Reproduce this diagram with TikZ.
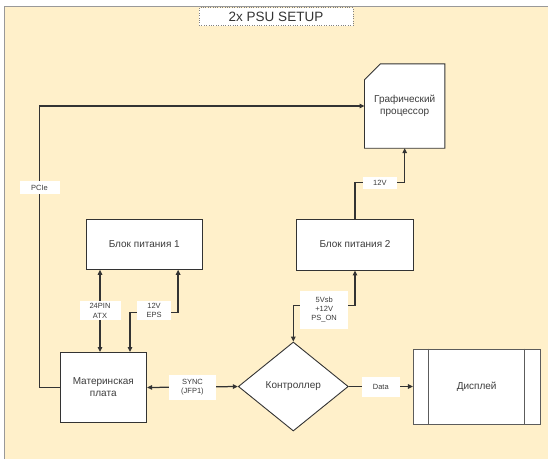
\documentclass[tikz,border=0pt]{standalone}
\usepackage{fontspec}
\setmainfont{Liberation Sans}
\usetikzlibrary{arrows.meta,shapes.geometric,backgrounds}
\definecolor{bgc}{HTML}{FFF0CA}
\definecolor{ln}{HTML}{333333}
\definecolor{tx}{HTML}{3C3C3C}
\begin{document}
\begin{tikzpicture}[x=1pt,y=-1pt,
  box/.style={draw=ln, line width=0.9pt, fill=white, text=tx, font=\fontsize{10}{12}\selectfont, align=center, inner sep=0pt},
  lbl/.style={fill=white, text=tx, font=\fontsize{7.5}{9.2}\selectfont, align=center, inner sep=0pt},
  conn/.style={draw=ln, line width=1.25pt},
  >={Triangle[length=5pt,width=4.5pt]}]
\useasboundingbox (0,0) rectangle (548,459);

% title
\node[draw=gray, dotted, fill=white, minimum width=154pt, minimum height=18pt, inner sep=0pt,
      font=\fontsize{13.5}{15}\selectfont, text=ln] (title) at (276,16.5) {2x PSU SETUP};

% nodes
\node[minimum width=80pt, minimum height=84pt, inner sep=0pt, text=tx,
      font=\fontsize{10}{12}\selectfont, align=center] (gpu) at (404.7,106) {Графический\\процессор};
\node[box, minimum width=116.7pt, minimum height=50.3pt] (psu1) at (144.3,244.2) {Блок питания 1};
\node[box, minimum width=116.6pt, minimum height=51pt] (psu2) at (355,244.5) {Блок питания 2};
\node[box, minimum width=86.7pt, minimum height=70pt] (mb) at (103.3,387.5) {Материнская\\плата};
\node[box, diamond, minimum width=110pt, minimum height=89pt] (dia) at (293.3,386.5) {Контроллер};
\node[box, draw=ln!80, minimum width=126.7pt, minimum height=75pt] (disp) at (476.7,386.5) {Дисплей};
\draw[draw=ln!80, line width=0.9pt] ([xshift=16pt]disp.north west) -- ([xshift=16pt]disp.south west);
\draw[draw=ln!80, line width=0.9pt] ([xshift=-16pt]disp.north east) -- ([xshift=-16pt]disp.south east);

\begin{scope}[on background layer]
  \fill[bgc] (4,6) rectangle (548,459);
  \draw[gray!80, line width=0.8pt] (4,459) -- (4,6) -- (548,6);
  \draw[draw=ln, line width=0.9pt, fill=white] (gpu.south west) -- (gpu.south east) -- (gpu.north east)
     -- ([xshift=16pt]gpu.north west) -- ([yshift=-16pt]gpu.north west) -- cycle;
\end{scope}

% connectors
\draw[conn,->] (mb.west) -- ++(-20,0) |- node[lbl, pos=0.355, minimum width=40pt, minimum height=12.6pt] {PCIe} (gpu.west);

\coordinate (a1) at ([xshift=-44.3pt]psu1.south);
\draw[conn,<->] (a1) -- node[lbl, minimum width=41pt, minimum height=19pt] {24PIN\\ATX} (a1 |- mb.north);

\coordinate (b1) at ([xshift=-25pt]psu1.south east);
\coordinate (b2) at ([xshift=26.7pt]mb.north);
\draw[conn,<->] (b1) -- ++(0,42.4) -| node[lbl, pos=0.25, yshift=2pt, minimum width=34pt, minimum height=19pt] {12V\\EPS} (b2);

\draw[conn,<->] (psu2.south) -- ++(0,35.3) -| node[lbl, pos=0.25, yshift=-4pt, minimum width=48pt, minimum height=37.6pt] {5Vsb\\+12V\\PS\_ON} (dia.north);

\draw[conn,->] (psu2.north) -- ++(0,-35.7) -| node[lbl, pos=0.25, minimum width=34pt, minimum height=12pt] {12V} (gpu.south);

\draw[conn,<->] (mb.east) -- node[lbl, minimum width=47.7pt, minimum height=25pt] {SYNC\\(JFP1)} (dia.west);

\draw[conn,->] (dia.east) -- node[lbl, minimum width=38pt, minimum height=20pt] {Data} (disp.west);
\end{tikzpicture}
\end{document}
